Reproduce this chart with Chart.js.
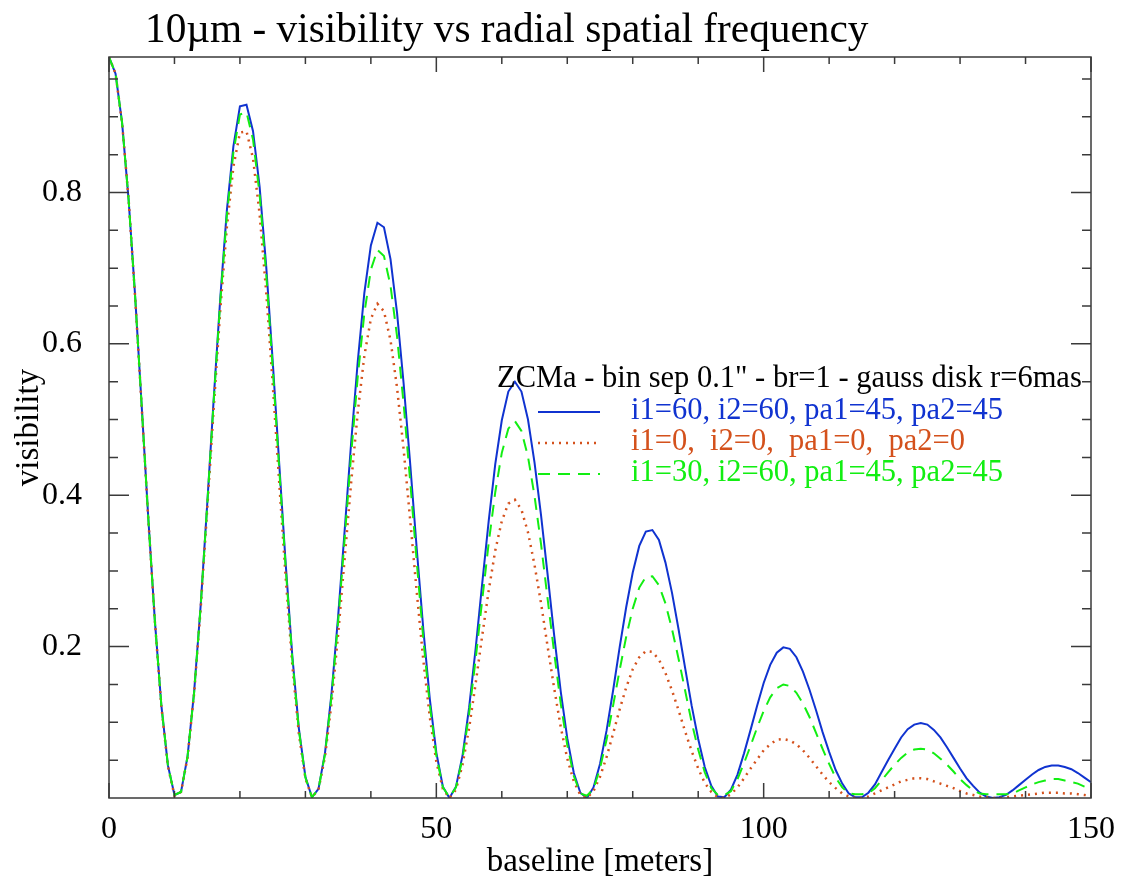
<!DOCTYPE html>
<html>
<head>
<meta charset="utf-8">
<title>10µm visibility</title>
<script src="https://cdn.jsdelivr.net/npm/chart.js@4.4.0/dist/chart.umd.min.js"></script>
<style>
  html, body { margin: 0; padding: 0; background: #fff; }
  canvas { display: block; }
</style>
</head>
<body>
<canvas id="visChart" width="1128" height="884"></canvas>
<script>
const FONT = "'Liberation Serif', 'Times New Roman', serif";

// baseline in meters (1 m sampling)
const baseline = [
  0, 1, 2, 3, 4, 5, 6, 7, 8, 9, 10, 11, 12, 13, 14, 15, 16, 17, 18, 19,
  20, 21, 22, 23, 24, 25, 26, 27, 28, 29, 30, 31, 32, 33, 34, 35, 36, 37, 38, 39,
  40, 41, 42, 43, 44, 45, 46, 47, 48, 49, 50, 51, 52, 53, 54, 55, 56, 57, 58, 59,
  60, 61, 62, 63, 64, 65, 66, 67, 68, 69, 70, 71, 72, 73, 74, 75, 76, 77, 78, 79,
  80, 81, 82, 83, 84, 85, 86, 87, 88, 89, 90, 91, 92, 93, 94, 95, 96, 97, 98, 99,
  100, 101, 102, 103, 104, 105, 106, 107, 108, 109, 110, 111, 112, 113, 114, 115, 116, 117, 118, 119,
  120, 121, 122, 123, 124, 125, 126, 127, 128, 129, 130, 131, 132, 133, 134, 135, 136, 137, 138, 139,
  140, 141, 142, 143, 144, 145, 146, 147, 148, 149, 150
];

// i1=60, i2=60, pa1=45, pa2=45
const visI60 = [
  .979, .957, .892, .790, .662, .517, .370, .235, .122, .043,
  .004, .008, .055, .140, .254, .388, .528, .661, .776, .861,
  .914, .916, .881, .808, .704, .578, .442, .308, .188, .092,
  .028, .001, .012, .060, .139, .240, .354, .471, .577, .667,
  .730, .760, .754, .712, .641, .548, .442, .330, .224, .131,
  .060, .015, .000, .015, .056, .119, .197, .283, .366, .441,
  .499, .537, .550, .537, .500, .443, .373, .295, .215, .141,
  .079, .033, .007, .000, .014, .045, .089, .142, .199, .252,
  .298, .333, .352, .354, .341, .311, .271, .223, .172, .122,
  .078, .041, .016, .002, .001, .011, .031, .059, .090, .122,
  .152, .176, .192, .199, .197, .186, .167, .143, .116, .087,
  .061, .037, .019, .006, .001, .001, .007, .018, .034, .050,
  .065, .080, .091, .097, .099, .097, .090, .080, .067, .053,
  .039, .026, .016, .007, .002, .000, .001, .004, .010, .017,
  .024, .031, .037, .041, .043, .043, .041, .038, .033, .027, .021
];

// i1=0, i2=0, pa1=0, pa2=0
const visI0 = [
  .979, .957, .892, .790, .661, .516, .369, .234, .121, .042,
  .003, .008, .054, .138, .250, .381, .516, .645, .754, .834,
  .879, .881, .845, .772, .670, .548, .417, .290, .176, .085,
  .026, .001, .011, .055, .126, .216, .317, .418, .510, .584,
  .633, .653, .643, .605, .542, .461, .368, .273, .183, .107,
  .048, .012, .000, .011, .044, .092, .151, .214, .274, .327,
  .366, .389, .394, .381, .351, .308, .257, .200, .145, .094,
  .052, .022, .004, .000, .009, .028, .054, .085, .117, .146,
  .170, .186, .194, .193, .183, .165, .142, .116, .088, .062,
  .039, .020, .008, .001, .000, .005, .014, .026, .039, .051,
  .063, .071, .077, .078, .076, .071, .063, .053, .042, .031,
  .021, .013, .006, .002, .000, .000, .002, .006, .010, .014,
  .018, .022, .024, .026, .026, .025, .022, .019, .016, .013,
  .009, .006, .004, .002, .001, .000, .000, .001, .002, .003,
  .004, .005, .006, .007, .007, .007, .006, .006, .005, .004, .003
];

// i1=30, i2=60, pa1=45, pa2=45
const visI30 = [
  .979, .957, .892, .790, .661, .517, .370, .234, .122, .043,
  .004, .008, .055, .139, .253, .386, .525, .656, .769, .853,
  .903, .906, .870, .798, .694, .569, .435, .303, .184, .090,
  .027, .001, .012, .058, .135, .233, .343, .455, .557, .640,
  .698, .724, .716, .677, .610, .521, .419, .313, .211, .123,
  .056, .014, .001, .014, .052, .111, .183, .261, .337, .404,
  .456, .488, .498, .485, .451, .399, .335, .263, .192, .125,
  .070, .029, .006, .003, .012, .039, .077, .122, .169, .213,
  .250, .278, .292, .293, .281, .257, .223, .184, .142, .100,
  .064, .034, .013, .004, .004, .009, .025, .046, .069, .093,
  .115, .133, .145, .150, .148, .139, .125, .107, .086, .065,
  .045, .027, .014, .006, .005, .005, .006, .013, .023, .034,
  .044, .053, .060, .064, .065, .064, .059, .052, .044, .035,
  .025, .017, .010, .006, .005, .005, .005, .005, .006, .010,
  .014, .018, .021, .023, .025, .025, .023, .021, .019, .015, .012
];

const seriesLabels = [
  "i1=60, i2=60, pa1=45, pa2=45",
  "i1=0,  i2=0,  pa1=0,  pa2=0",
  "i1=30, i2=60, pa1=45, pa2=45"
];
const legendTitle = "ZCMa - bin sep 0.1\" - br=1 - gauss disk r=6mas";
const chartTitle = "10µm - visibility vs radial spatial frequency";

const xTickLabels = [0, 50, 100, 150];
const xMinorTicks = [10, 20, 30, 40, 60, 70, 80, 90, 110, 120, 130, 140];
const yTickLabels = [0.2, 0.4, 0.6, 0.8];
const yMinorTicks = [0.05, 0.1, 0.15, 0.25, 0.3, 0.35, 0.45, 0.5, 0.55, 0.65, 0.7, 0.75, 0.85, 0.9, 0.95];

const BLUE = '#1033d0';
const ORANGE = '#d4511c';
const GREEN = '#12ee12';
const AXIS = '#3a3a3a';

function points(values) {
  return baseline.map((b, i) => ({x: b, y: values[i]}));
}

// IDL style box: frame + inward ticks on all four sides, title, legend
const idlFrame = {
  id: 'idlFrame',
  afterDatasetsDraw(chart) {
    const {ctx, chartArea: a, scales: {x, y}} = chart;
    ctx.save();
    ctx.strokeStyle = AXIS;
    ctx.lineWidth = 1.5;
    ctx.strokeRect(a.left, a.top, a.right - a.left, a.bottom - a.top);
    ctx.beginPath();
    const xt = (v, len) => {
      const px = x.getPixelForValue(v);
      ctx.moveTo(px, a.bottom); ctx.lineTo(px, a.bottom - len);
      ctx.moveTo(px, a.top); ctx.lineTo(px, a.top + len);
    };
    const yt = (v, len) => {
      const py = y.getPixelForValue(v);
      ctx.moveTo(a.left, py); ctx.lineTo(a.left + len, py);
      ctx.moveTo(a.right, py); ctx.lineTo(a.right - len, py);
    };
    xMinorTicks.forEach(v => xt(v, 7));
    xTickLabels.forEach(v => xt(v, 15));
    yMinorTicks.forEach(v => yt(v, 9));
    yTickLabels.forEach(v => yt(v, 20));
    ctx.stroke();

    // legend
    ctx.textBaseline = 'alphabetic';
    ctx.textAlign = 'left';
    ctx.font = '30.5px ' + FONT;
    ctx.fillStyle = '#000';
    ctx.fillText(legendTitle, 497, 387);
    [0, 1, 2].forEach(i => {
      const ds = chart.data.datasets[i];
      const base = 419 + i * 31;
      ctx.beginPath();
      ctx.strokeStyle = ds.borderColor;
      ctx.lineWidth = ds.borderWidth;
      ctx.setLineDash(ds.borderDash || []);
      ctx.moveTo(538, base - 7);
      ctx.lineTo(600, base - 7);
      ctx.stroke();
      ctx.setLineDash([]);
      ctx.fillStyle = ds.borderColor;
      ctx.fillText(seriesLabels[i], 631, base);
    });

    // title
    ctx.font = '41.3px ' + FONT;
    ctx.fillStyle = '#000';
    ctx.fillText(chartTitle, 145, 42);
    ctx.restore();
  }
};

const VIS = document.getElementById('visChart');

let visChart = new Chart(VIS, {
  type: 'line',
  data: {
    datasets: [
      {
        label: seriesLabels[0],
        data: points(visI60),
        borderColor: BLUE,
        borderWidth: 2,
        borderDash: [],
        order: 2
      },
      {
        label: seriesLabels[1],
        data: points(visI0),
        borderColor: ORANGE,
        borderWidth: 2.5,
        borderDash: [2, 5],
        order: 1
      },
      {
        label: seriesLabels[2],
        data: points(visI30),
        borderColor: GREEN,
        borderWidth: 2,
        borderDash: [12, 8],
        order: 0
      }
    ]
  },
  options: {
    responsive: false,
    devicePixelRatio: 1,
    animation: false,
    layout: {padding: {left: 0, right: 37, top: 57, bottom: 0}},
    elements: {
      point: {radius: 0, hoverRadius: 0},
      line: {tension: 0, fill: false, borderCapStyle: 'butt', borderJoinStyle: 'miter'}
    },
    plugins: {
      legend: {display: false},
      tooltip: {enabled: false},
      title: {display: false}
    },
    scales: {
      x: {
        type: 'linear',
        min: 0,
        max: 150,
        afterBuildTicks: s => { s.ticks = xTickLabels.map(v => ({value: v})); },
        afterFit: s => { s.height = 86; },
        grid: {display: false, drawTicks: false},
        border: {display: false},
        ticks: {
          padding: 12,
          color: '#000',
          maxRotation: 0,
          autoSkip: false,
          font: {family: FONT, size: 32},
          callback: v => String(v)
        },
        title: {
          display: true,
          text: 'baseline [meters]',
          color: '#000',
          font: {family: FONT, size: 33},
          padding: {top: 0, bottom: 2}
        }
      },
      y: {
        type: 'linear',
        min: 0,
        max: 0.979,
        afterBuildTicks: s => { s.ticks = yTickLabels.map(v => ({value: v})); },
        afterFit: s => { s.width = 109; },
        grid: {display: false, drawTicks: false},
        border: {display: false},
        ticks: {
          padding: 27,
          color: '#000',
          autoSkip: false,
          font: {family: FONT, size: 32},
          callback: v => v.toFixed(1)
        },
        title: {
          display: true,
          text: 'visibility',
          color: '#000',
          font: {family: FONT, size: 33},
          padding: {top: 10, bottom: 0}
        }
      }
    }
  },
  plugins: [idlFrame]
});
</script>
</body>
</html>
